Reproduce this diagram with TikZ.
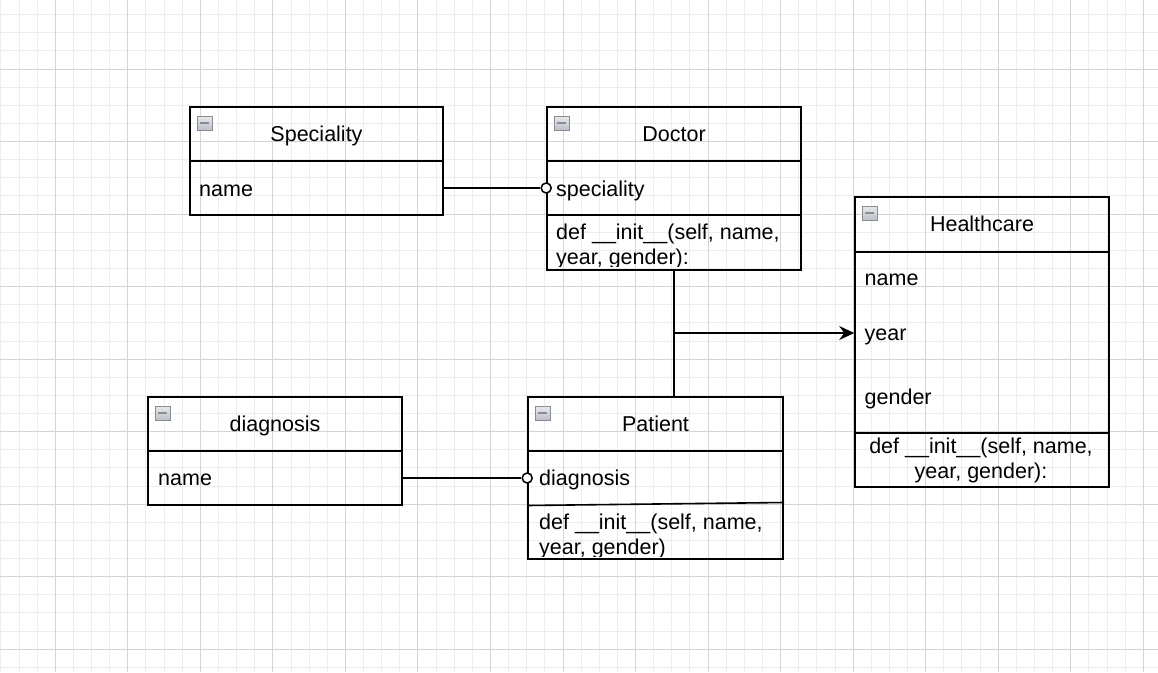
\documentclass[tikz,border=0pt]{standalone}
\usepackage{fontspec}
\setmainfont{Liberation Sans}
\usetikzlibrary{arrows.meta}
\definecolor{minorgrid}{HTML}{EDEDED}
\definecolor{majorgrid}{HTML}{D4D4D4}
\definecolor{iconedge}{HTML}{878C95}
\definecolor{icontop}{HTML}{E8EAED}
\definecolor{iconbottom}{HTML}{BABEC6}
\begin{document}
\begin{tikzpicture}[x=1pt,y=-1pt,
    every node/.style={inner sep=0pt, font=\fontsize{21.5}{25}\selectfont},
    part/.style={draw, line width=1.6pt, minimum width=254pt},
    head/.style={part, minimum height=54pt, text height=16pt, text depth=2pt},
    attr/.style={anchor=base west},
    meth/.style={anchor=base},
    knob/.style={circle, draw, fill=white, line width=1.5pt, minimum size=10pt},
    fold/.style={anchor=north west, draw=iconedge, line width=1pt,
      top color=icontop, bottom color=iconbottom,
      minimum width=15pt, minimum height=14pt,
      path picture={\draw[line width=2.2pt]
        ([xshift=3pt]path picture bounding box.west) --
        ([xshift=-3pt]path picture bounding box.east);}},
    link/.style={line width=1.6pt}]
  \useasboundingbox (0,0) rectangle (1158,672);
  \fill[white] (0,0) rectangle (1158,672);
  \foreach \i in {0,...,63}
    \draw[minorgrid, line width=1pt] ({0.9+\i*18.133},0) -- ++(0,672);
  \foreach \j in {0,...,36}
    \draw[minorgrid, line width=1pt] (0,{14.6+\j*18.133}) -- ++(1158,0);
  \foreach \i in {0,...,15}
    \draw[majorgrid, line width=1pt] ({55.3+\i*72.53},0) -- ++(0,672);
  \foreach \j in {0,...,8}
    \draw[majorgrid, line width=1pt] (0,{69+\j*72.53}) -- ++(1158,0);

  \node[head, minimum width=253pt] (spechead) at (316.5,134) {Speciality};
  \node[part, minimum width=253pt, minimum height=54pt] (specbody) at (316.5,188) {};
  \node[fold] (specicon) at ([shift={(7.5,9.5)}]spechead.north west) {};
  \node[attr] (specname) at (199,196) {name};

  \node[head] (dochead) at (674,134) {Doctor};
  \node[part, minimum height=54pt] (docattr) at (674,188) {};
  \node[part, minimum height=55pt] (docmeth) at (674,242.5) {};
  \node[fold] (docicon) at ([shift={(7.5,9.5)}]dochead.north west) {};
  \node[attr] (docspec) at (556,196) {speciality};
  \begin{scope}
    \clip (docmeth.north west) rectangle (801,266);
    \node[attr] (docdef) at (556,239.3) {def \_\_init\_\_(self, name,};
    \node[attr] (docargs) at (556,264.3) {year, gender):};
  \end{scope}

  \node[head, minimum height=55pt] (hchead) at (982,224.5) {Healthcare};
  \node[part, minimum height=181pt] (hcattr) at (982,342.5) {};
  \node[part, minimum height=54pt] (hcmeth) at (982,460) {};
  \node[fold] (hcicon) at ([shift={(7.5,9.5)}]hchead.north west) {};
  \node[attr] (hcname) at (864.5,285.7) {name};
  \node[attr] (hcyear) at (864.5,340.7) {year};
  \node[attr] (hcgender) at (864.5,404) {gender};
  \node[meth] (hcdef) at (981,453.3) {def \_\_init\_\_(self, name,};
  \node[meth] (hcargs) at (981,478.3) {year, gender):};

  \node[head] (diaghead) at (275,424) {diagnosis};
  \node[part, minimum height=54pt] (diagbody) at (275,478) {};
  \node[fold] (diagicon) at ([shift={(7.5,9.5)}]diaghead.north west) {};
  \node[attr] (diagname) at (158,485) {name};

  \node[head, minimum width=255pt] (pathead) at (655.5,424) {Patient};
  \node[part, minimum width=255pt, minimum height=108pt] (patbody) at (655.5,505) {};
  \draw[line width=1.6pt] (527,505.5) -- (784,502.5);
  \node[fold] (paticon) at ([shift={(7.5,9.5)}]pathead.north west) {};
  \node[attr] (patdiag) at (539,485) {diagnosis};
  \begin{scope}
    \clip (528,504) rectangle (783,556);
    \node[attr] (patdef) at (539,529.3) {def \_\_init\_\_(self, name,};
    \node[attr] (patargs) at (539,554.3) {year, gender)};
  \end{scope}

  \node[knob] (speccirc) at (docattr.west) {};
  \node[knob] (diagcirc) at (patbody.west |- diagbody.east) {};
  \coordinate (join) at (674,333);
  \begin{scope}[link]
    \draw (specbody.east) -- (speccirc);
    \draw (diagbody.east) -- (diagcirc);
    \draw (docmeth.south) -- (docmeth.south |- pathead.north);
    \draw[-{Stealth[length=15pt,width=14pt,inset=5pt]}] (join) -- (join -| hcattr.west);
  \end{scope}
\end{tikzpicture}
\end{document}
